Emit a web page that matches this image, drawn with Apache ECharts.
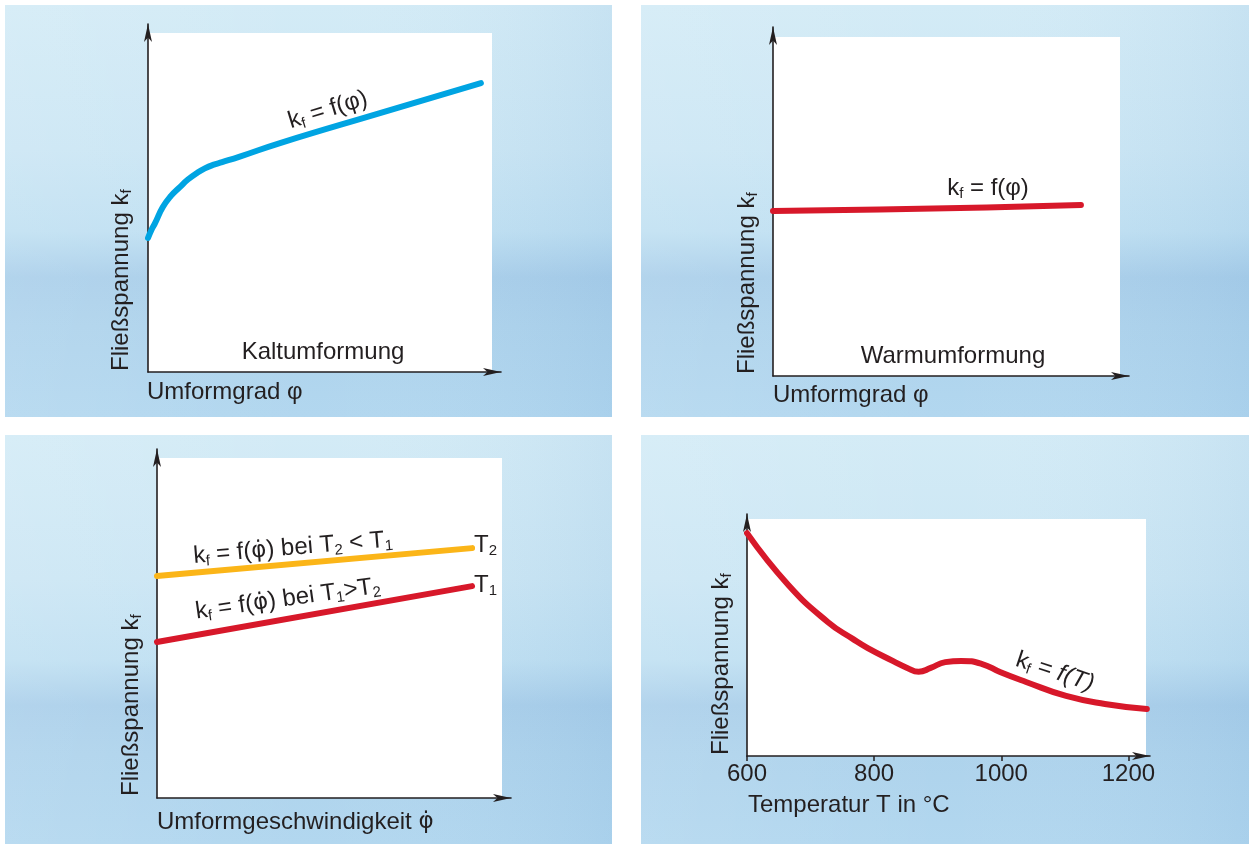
<!DOCTYPE html>
<html>
<head>
<meta charset="utf-8">
<title>Fließspannung</title>
<script src="https://cdn.jsdelivr.net/npm/echarts@6/dist/echarts.min.js"></script>
<style>
  html, body { margin: 0; padding: 0; background: #fff; }
  #main { width: 1249px; height: 844px; }
</style>
</head>
<body>
<div id="main"></div>
<script>
// Kaltumformung: k_f ueber Umformgrad (relative Einheiten 0..100)
var kaltX = [0, 1.0, 2.0, 4.2, 6.5, 9.1, 11.3, 13.9, 16.1, 18.4, 21.0, 26.0, 37.4, 65.7, 94.3];
var kaltY = [38.5, 40.9, 42.8, 47.4, 50.6, 53.2, 55.3, 57.2, 58.5, 59.5, 60.3, 61.9, 65.8, 74.4, 83.0];

// Warmumformung
var warmX = [0, 30, 60, 86.5];
var warmY = [47.3, 47.7, 48.3, 49.0];

// Umformgeschwindigkeit, zwei Temperaturen
var rateX = [0, 89];
var rateT2 = [63.6, 71.6];
var rateT1 = [44.7, 60.7];

// Temperaturverlauf
var tempX = [600, 665, 727, 767, 790, 830, 852, 870, 889, 912, 937, 970, 998, 1039, 1102, 1163, 1229];
var tempY = [92.1, 70.7, 55.4, 48.3, 44.6, 39.2, 36.4, 34.8, 36.4, 38.8, 39.3, 38.0, 34.7, 30.6, 24.8, 21.5, 19.4];
var tempTicks = [600, 800, 1000, 1200];

var INK = '#231f20';
var FONT = '"Liberation Sans", Arial, sans-serif';
var BLUE = '#00a4e2';
var RED = '#d7182a';
var ORANGE = '#fbb518';

function pairs(xs, ys) {
  var out = [];
  for (var i = 0; i < xs.length; i++) {
    out.push([xs[i], ys[i]]);
  }
  return out;
}

var rich = {
  s: { fontSize: 15, fill: INK, fontFamily: FONT, padding: [12, 0, 0, 0] },
  i: { fontSize: 24, fill: INK, fontFamily: FONT, fontStyle: 'italic' },
  // phi mit Punkt: DejaVu setzt das kombinierende Zeichen sauber
  p: { fontSize: 23, fill: INK, fontFamily: '"DejaVu Sans", sans-serif' }
};

function txt(x, y, text, align, rot) {
  return {
    type: 'text', x: x, y: y, rotation: rot || 0, z: 100,
    style: {
      text: text, fontFamily: FONT, fontSize: 24, fill: INK,
      align: align || 'left', verticalAlign: 'middle', rich: rich
    }
  };
}

function panel(x, y, w, h) {
  return [{
    type: 'rect', z: -10, silent: true,
    shape: { x: x, y: y, width: w, height: h },
    style: {
      fill: {
        type: 'linear', x: 0, y: 0, x2: 0, y2: 1,
        colorStops: [
          { offset: 0, color: '#d3ebf6' },
          { offset: 0.35, color: '#cbe6f4' },
          { offset: 0.55, color: '#c0e0f2' },
          { offset: 0.66, color: '#aacfea' },
          { offset: 0.78, color: '#aed3ec' },
          { offset: 1, color: '#b2d7ef' }
        ]
      }
    }
  }, {
    type: 'rect', z: -9, silent: true,
    shape: { x: x, y: y, width: w, height: h },
    style: {
      fill: {
        type: 'linear', x: 0, y: 0, x2: 1, y2: 0,
        colorStops: [
          { offset: 0, color: 'rgba(255,255,255,0.10)' },
          { offset: 0.5, color: 'rgba(255,255,255,0)' },
          { offset: 1, color: 'rgba(90,150,205,0.10)' }
        ]
      }
    }
  }];
}

function paper(x, y, w, h) {
  return {
    type: 'rect', z: -5, silent: true,
    shape: { x: x, y: y, width: w, height: h },
    style: { fill: '#ffffff' }
  };
}

function arrowAxis(extra) {
  var ax = {
    type: 'value', min: 0, max: 100,
    axisLine: {
      show: true, onZero: false, symbol: ['none', 'arrow'], symbolSize: [6, 18],
      lineStyle: { color: INK, width: 1.6 }
    },
    axisTick: { show: false },
    axisLabel: { show: false },
    splitLine: { show: false }
  };
  for (var k in extra) ax[k] = extra[k];
  return ax;
}

function line(idx, data, color, smooth) {
  return {
    type: 'line', xAxisIndex: idx, yAxisIndex: idx,
    data: data, symbol: 'none', smooth: smooth,
    lineStyle: { color: color, width: 6, cap: 'round', join: 'round' },
    silent: true
  };
}

var chart = echarts.init(document.getElementById('main'), null, { renderer: 'canvas' });

var graphics = []
  .concat(panel(5, 5, 607, 412))
  .concat(panel(641, 5, 608, 412))
  .concat(panel(5, 435, 607, 409))
  .concat(panel(641, 435, 608, 409))
  .concat([
    paper(148, 33, 344, 339),
    paper(773, 37, 347, 339),
    paper(157, 458, 345, 340),
    paper(747, 519, 399, 237),

    // oben links
    txt(121, 371, 'Fließspannung k{s|f}', 'left', Math.PI / 2),
    txt(147, 392, 'Umformgrad φ', 'left'),
    txt(323, 352, 'Kaltumformung', 'center'),
    txt(328, 110, 'k{s|f} = f(φ)', 'center', 0.297),

    // oben rechts
    txt(747, 374, 'Fließspannung k{s|f}', 'left', Math.PI / 2),
    txt(773, 395, 'Umformgrad φ', 'left'),
    txt(953, 356, 'Warmumformung', 'center'),
    txt(988, 188, 'k{s|f} = f(φ)', 'center'),

    // unten links
    txt(131, 796, 'Fließspannung k{s|f}', 'left', Math.PI / 2),
    txt(157, 822, 'Umformgeschwindigkeit {p|φ\u0307}', 'left'),
    txt(293, 548, 'k{s|f} = f({p|φ\u0307}) bei T{s|2} < T{s|1}', 'center', 0.084),
    txt(288, 599, 'k{s|f} = f({p|φ\u0307}) bei T{s|1}>T{s|2}', 'center', 0.14),
    txt(474, 545, 'T{s|2}', 'left'),
    txt(474, 585, 'T{s|1}', 'left'),

    // unten rechts
    txt(721, 755, 'Fließspannung k{s|f}', 'left', Math.PI / 2),
    txt(748, 805, 'Temperatur T in °C', 'left'),
    txt(1055, 672, 'k{s|f} = {i|f(T)}', 'center', -0.32)
  ]);

var option = {
  animation: false,
  backgroundColor: '#ffffff',
  grid: [
    { left: 148, top: 24, width: 353, height: 348 },
    { left: 773, top: 27, width: 356, height: 349 },
    { left: 157, top: 449, width: 354, height: 349 },
    { left: 747, top: 514, width: 403, height: 242 }
  ],
  xAxis: [
    arrowAxis({ gridIndex: 0 }),
    arrowAxis({ gridIndex: 1 }),
    arrowAxis({ gridIndex: 2 }),
    arrowAxis({
      gridIndex: 3, min: 600, max: 1234, interval: 200,
      axisTick: { show: true, customValues: tempTicks, length: 5, lineStyle: { color: INK, width: 1.5 } },
      axisLabel: {
        show: true, customValues: tempTicks, margin: 6,
        fontSize: 24, fontFamily: FONT, color: INK,
        formatter: function (v) { return String(v); }
      }
    })
  ],
  yAxis: [
    arrowAxis({ gridIndex: 0 }),
    arrowAxis({ gridIndex: 1 }),
    arrowAxis({ gridIndex: 2 }),
    arrowAxis({ gridIndex: 3 })
  ],
  series: [
    line(0, pairs(kaltX, kaltY), BLUE, 0.5),
    line(1, pairs(warmX, warmY), RED, false),
    line(2, pairs(rateX, rateT2), ORANGE, false),
    line(2, pairs(rateX, rateT1), RED, false),
    line(3, pairs(tempX, tempY), RED, 0.5)
  ],
  graphic: graphics
};

chart.setOption(option);
</script>
</body>
</html>
